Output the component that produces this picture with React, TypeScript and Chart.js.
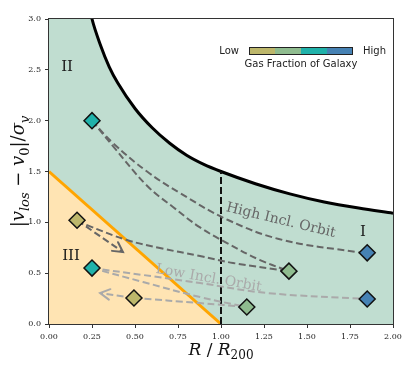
import React, { useEffect, useRef } from 'react';
import { Chart, registerables } from 'chart.js';

Chart.register(...registerables);

// ---------------- data ----------------
const xTickValues = [0, 0.25, 0.5, 0.75, 1.0, 1.25, 1.5, 1.75, 2.0];
const yTickValues = [0, 0.5, 1.0, 1.5, 2.0, 2.5, 3.0];

// escape-velocity style boundary (black curve)
const boundaryX = [0, 0.1, 0.2, 0.25, 0.3, 0.35, 0.4, 0.5, 0.6, 0.7, 0.8, 0.9, 1.0, 1.2, 1.4, 1.6, 1.8, 2.0];
const boundaryY = [12, 4.8, 3.4, 3.0, 2.74, 2.53, 2.37, 2.12, 1.93, 1.78, 1.66, 1.57, 1.5, 1.38, 1.28, 1.2, 1.14, 1.09];

// orange division line
const splitX = [0, 1.0];
const splitY = [1.5, 0];

// R200 vertical marker
const r200X = [1.0, 1.0];
const r200Y = [0, 1.5];

// galaxies
const galaxyX = [0.25, 0.163, 0.25, 0.494, 1.15, 1.395, 1.85, 1.85];
const galaxyY = [2.0, 1.02, 0.55, 0.256, 0.167, 0.52, 0.7, 0.246];
const galaxyGas = [2, 0, 2, 0, 1, 1, 3, 3];

// colour bar
const gasColors = ['#bdb76b', '#8fbc8f', '#20b2aa', '#4682b4'];
const gasLow = 'Low';
const gasHigh = 'High';
const gasTitle = 'Gas Fraction of Galaxy';

// high-inclination orbits (dark)
const highA_X = [0.25, 0.372, 0.57, 0.762, 1.041, 1.36, 1.791, 1.85];
const highA_Y = [2.0, 1.78, 1.5, 1.288, 1.023, 0.826, 0.708, 0.7];
const highB_X = [0.25, 0.372, 0.57, 0.721, 0.878, 1.035, 1.227, 1.395];
const highB_Y = [2.0, 1.75, 1.36, 1.151, 0.95, 0.796, 0.629, 0.52];
const highC_X = [0.163, 0.221, 0.453, 0.645, 0.878, 1.07, 1.395];
const highC_Y = [1.02, 0.973, 0.826, 0.747, 0.669, 0.6, 0.52];
const highArrowX = [0.163, 0.43];
const highArrowY = [1.02, 0.708];

// low-inclination orbits (light)
const lowA_X = [0.25, 0.547, 0.878, 1.267, 1.85];
const lowA_Y = [0.55, 0.482, 0.403, 0.305, 0.246];
const lowB_X = [0.25, 0.547, 0.878, 1.15];
const lowB_Y = [0.55, 0.413, 0.265, 0.167];
const lowC_X = [0.494, 0.878, 1.15];
const lowC_Y = [0.256, 0.206, 0.167];
const lowArrowX = [0.494, 0.297];
const lowArrowY = [0.256, 0.305];

// text labels
const highOrbitLabel = 'High Incl. Orbit';
const lowOrbitLabel = 'Low Incl. Orbit';
const regionLabels = ['I', 'II', 'III'];
const regionLabelX = [1.826, 0.105, 0.128];
const regionLabelY = [0.905, 2.53, 0.668];

// ---------------- styling ----------------
const GREEN = '#c0ddd0';
const ORANGE_FILL = '#ffe4b3';
const ORANGE = '#ffa500';
const DARK = '#666666';
const LIGHT = '#aaaaaa';
const SERIF = '"DejaVu Serif", serif';
const SANS = '"DejaVu Sans", sans-serif';

const pts = (xs: number[], ys: number[]) => xs.map((x, i) => ({ x, y: ys[i] }));

const orbit = (xs: number[], ys: number[], color: string, order: number) => ({
  data: pts(xs, ys),
  showLine: true,
  borderColor: color,
  borderWidth: 2,
  borderDash: [7, 3.5],
  pointRadius: 0,
  tension: 0.4,
  fill: false,
  order,
});

type Part = { t: string; it?: boolean; sub?: boolean };

function drawRich(ctx: CanvasRenderingContext2D, parts: Part[], size: number, family: string) {
  const fontFor = (p: Part) => `${p.it ? 'italic ' : ''}${p.sub ? Math.round(size * 0.7) : size}px ${family}`;
  let w = 0;
  for (const p of parts) {
    ctx.font = fontFor(p);
    w += ctx.measureText(p.t).width;
  }
  let cx = -w / 2;
  ctx.textAlign = 'left';
  ctx.textBaseline = 'alphabetic';
  for (const p of parts) {
    ctx.font = fontFor(p);
    ctx.fillText(p.t, cx, p.sub ? size * 0.25 : 0);
    cx += ctx.measureText(p.t).width;
  }
}

function drawArrowHead(ctx: CanvasRenderingContext2D, fx: number, fy: number, tx: number, ty: number, color: string) {
  const ang = Math.atan2(ty - fy, tx - fx);
  const len = 11;
  const spread = 0.5;
  ctx.save();
  ctx.strokeStyle = color;
  ctx.lineWidth = 2;
  ctx.setLineDash([]);
  ctx.lineCap = 'round';
  ctx.beginPath();
  ctx.moveTo(tx - len * Math.cos(ang - spread), ty - len * Math.sin(ang - spread));
  ctx.lineTo(tx, ty);
  ctx.lineTo(tx - len * Math.cos(ang + spread), ty - len * Math.sin(ang + spread));
  ctx.stroke();
  ctx.restore();
}

const decor = {
  id: 'decor',
  beforeDatasetsDraw(chart: any) {
    const { ctx, chartArea: a } = chart;
    ctx.save();
    ctx.fillStyle = '#ffffff';
    ctx.fillRect(a.left, a.top, a.right - a.left, a.bottom - a.top);
    ctx.restore();
  },
  afterDatasetsDraw(chart: any) {
    const { ctx, chartArea: a } = chart;
    const xs = chart.scales.x;
    const ys = chart.scales.y;
    const px = (v: number) => xs.getPixelForValue(v);
    const py = (v: number) => ys.getPixelForValue(v);

    // arrow heads
    drawArrowHead(ctx, px(highArrowX[0]), py(highArrowY[0]), px(highArrowX[1]), py(highArrowY[1]), DARK);
    drawArrowHead(ctx, px(lowArrowX[0]), py(lowArrowY[0]), px(lowArrowX[1]), py(lowArrowY[1]), LIGHT);

    // orbit labels
    ctx.save();
    ctx.font = `14px ${SERIF}`;
    ctx.textAlign = 'center';
    ctx.textBaseline = 'alphabetic';
    ctx.fillStyle = DARK;
    ctx.translate(px(1.343), py(0.983));
    ctx.rotate((13.5 * Math.PI) / 180);
    ctx.fillText(highOrbitLabel, 0, 0);
    ctx.restore();

    ctx.save();
    ctx.font = `14px ${SERIF}`;
    ctx.textAlign = 'center';
    ctx.textBaseline = 'alphabetic';
    ctx.fillStyle = LIGHT;
    ctx.translate(px(0.924), py(0.413));
    ctx.rotate((10 * Math.PI) / 180);
    ctx.fillText(lowOrbitLabel, 0, 0);
    ctx.restore();

    // region labels
    ctx.save();
    ctx.font = `15px ${SERIF}`;
    ctx.textAlign = 'center';
    ctx.textBaseline = 'middle';
    ctx.fillStyle = '#1a1a1a';
    regionLabels.forEach((t, i) => ctx.fillText(t, px(regionLabelX[i]), py(regionLabelY[i])));
    ctx.restore();

    // colour bar legend
    ctx.save();
    const bx = a.left + 200;
    const by = a.top + 28;
    const bw = 26;
    const bh = 8;
    gasColors.forEach((c, i) => {
      ctx.fillStyle = c;
      ctx.fillRect(bx + i * bw, by, bw, bh);
    });
    ctx.strokeStyle = '#222';
    ctx.lineWidth = 1;
    ctx.strokeRect(bx + 0.5, by + 0.5, bw * gasColors.length - 1, bh - 1);
    ctx.fillStyle = '#222';
    ctx.font = `10px ${SANS}`;
    ctx.textBaseline = 'middle';
    ctx.textAlign = 'right';
    ctx.fillText(gasLow, bx - 10, by + bh / 2);
    ctx.textAlign = 'left';
    ctx.fillText(gasHigh, bx + bw * gasColors.length + 10, by + bh / 2);
    ctx.textAlign = 'center';
    ctx.fillText(gasTitle, bx + (bw * gasColors.length) / 2, by + bh + 9);
    ctx.restore();
  },
  afterDraw(chart: any) {
    const { ctx, chartArea: a } = chart;
    // frame
    ctx.save();
    ctx.strokeStyle = '#333';
    ctx.lineWidth = 1;
    ctx.strokeRect(Math.round(a.left) - 0.5, Math.round(a.top) - 0.5, Math.round(a.right - a.left) + 1, Math.round(a.bottom - a.top) + 1);
    ctx.restore();

    // y title
    ctx.save();
    ctx.fillStyle = '#111';
    ctx.translate(24, (a.top + a.bottom) / 2);
    ctx.rotate(-Math.PI / 2);
    drawRich(
      ctx,
      [
        { t: '|' },
        { t: 'v', it: true },
        { t: 'los', it: true, sub: true },
        { t: ' − ' },
        { t: 'v', it: true },
        { t: '0', sub: true },
        { t: '|/' },
        { t: 'σ', it: true },
        { t: 'v', it: true, sub: true },
      ],
      18,
      SERIF
    );
    ctx.restore();

    // x title
    ctx.save();
    ctx.fillStyle = '#111';
    ctx.translate((a.left + a.right) / 2, 355);
    drawRich(
      ctx,
      [
        { t: 'R', it: true },
        { t: ' / ' },
        { t: 'R', it: true },
        { t: '200', sub: true },
      ],
      17,
      SERIF
    );
    ctx.restore();
  },
};

export default function App() {
  const ref = useRef<HTMLCanvasElement | null>(null);

  useEffect(() => {
    if (!ref.current) return;
    const markers = {
      data: pts(galaxyX, galaxyY),
      pointStyle: 'rectRot',
      pointRadius: 8,
      pointBackgroundColor: galaxyGas.map((g) => gasColors[g]),
      pointBorderColor: '#111',
      pointBorderWidth: 1.5,
      showLine: false,
      order: 0,
    };
    const chart = new Chart(ref.current, {
      type: 'scatter',
      data: {
        datasets: [
          markers as any,
          orbit(highArrowX, highArrowY, DARK, 1),
          orbit(highA_X, highA_Y, DARK, 1),
          orbit(highB_X, highB_Y, DARK, 1),
          orbit(highC_X, highC_Y, DARK, 1),
          orbit(lowArrowX, lowArrowY, LIGHT, 2),
          orbit(lowA_X, lowA_Y, LIGHT, 2),
          orbit(lowB_X, lowB_Y, LIGHT, 2),
          orbit(lowC_X, lowC_Y, LIGHT, 2),
          {
            data: pts(r200X, r200Y),
            showLine: true,
            borderColor: '#111',
            borderWidth: 2,
            borderDash: [7, 3],
            pointRadius: 0,
            fill: false,
            order: 3,
          },
          {
            data: pts(splitX, splitY),
            showLine: true,
            borderColor: ORANGE,
            borderWidth: 3,
            pointRadius: 0,
            fill: 'start',
            backgroundColor: ORANGE_FILL,
            order: 4,
          },
          {
            data: pts(boundaryX, boundaryY),
            showLine: true,
            borderColor: '#000',
            borderWidth: 3,
            pointRadius: 0,
            cubicInterpolationMode: 'monotone',
            fill: 'start',
            backgroundColor: GREEN,
            order: 5,
          },
        ] as any,
      },
      options: {
        animation: false,
        responsive: false,
        maintainAspectRatio: false,
        events: [],
        layout: { padding: { left: 0, right: 22, top: 19, bottom: 0 } },
        plugins: { legend: { display: false }, tooltip: { enabled: false } },
        scales: {
          x: {
            type: 'linear',
            min: 0,
            max: 2,
            afterBuildTicks: (s: any) => {
              s.ticks = xTickValues.map((v) => ({ value: v }));
            },
            afterFit: (s: any) => {
              s.height = 45;
              s.paddingLeft = 0;
              s.paddingRight = 0;
            },
            ticks: {
              callback: (v: any) => Number(v).toFixed(2),
              font: { family: SERIF, size: 8 },
              color: '#222',
              padding: 4,
              maxRotation: 0,
              autoSkip: false,
            },
            grid: { drawOnChartArea: false, drawTicks: true, tickLength: 4, tickColor: '#333' },
            border: { display: true, color: '#333', width: 1 },
          },
          y: {
            type: 'linear',
            min: 0,
            max: 3,
            afterBuildTicks: (s: any) => {
              s.ticks = yTickValues.map((v) => ({ value: v }));
            },
            afterFit: (s: any) => {
              s.width = 49;
              s.paddingTop = 0;
              s.paddingBottom = 0;
            },
            ticks: {
              callback: (v: any) => Number(v).toFixed(1),
              font: { family: SERIF, size: 8 },
              color: '#222',
              padding: 4,
              autoSkip: false,
            },
            grid: { drawOnChartArea: false, drawTicks: true, tickLength: 4, tickColor: '#333' },
            border: { display: true, color: '#333', width: 1 },
          },
        },
      },
      plugins: [decor as any],
    });
    return () => chart.destroy();
  }, []);

  return (
    <div style={{ position: 'fixed', left: 0, top: 0, width: 415, height: 369, background: '#fff' }}>
      <canvas ref={ref} width={415} height={369} style={{ width: 415, height: 369, display: 'block' }} />
    </div>
  );
}
